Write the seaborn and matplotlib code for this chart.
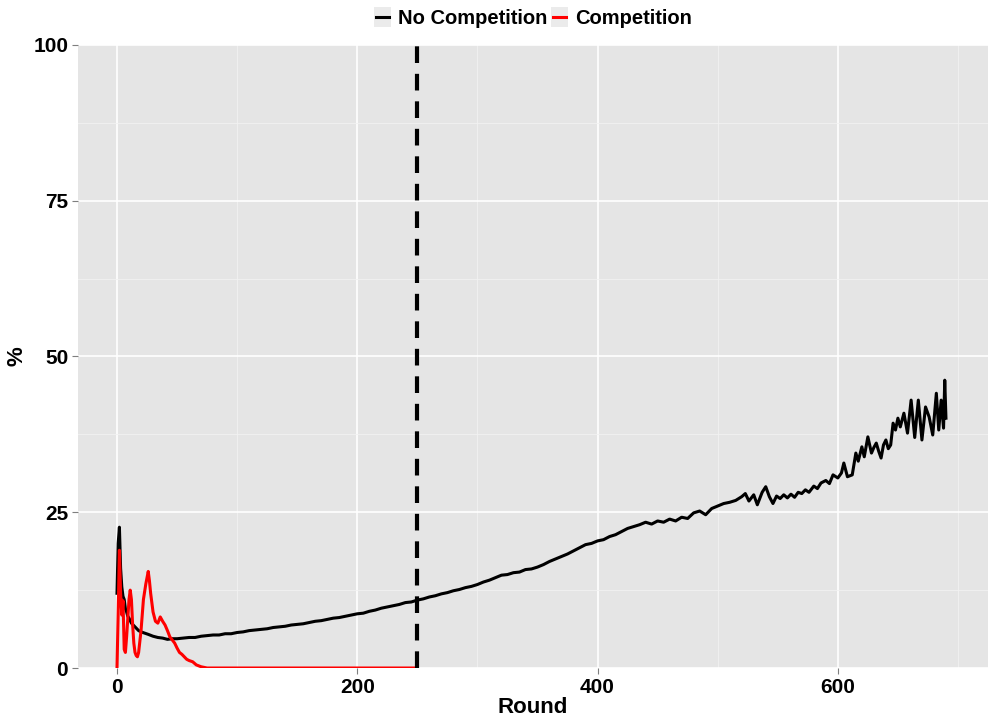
import matplotlib
matplotlib.use("Agg")
import matplotlib.pyplot as plt
import seaborn as sns
import pandas as pd
from matplotlib.legend_handler import HandlerBase
from matplotlib.patches import Rectangle
from matplotlib.lines import Line2D
from matplotlib.ticker import MultipleLocator

# ---------------- data ----------------
black_rounds = [0, 1, 2, 3, 4, 5, 6, 7, 8, 9, 10, 12, 14, 16, 18, 20, 23, 26, 30, 34, 38, 42, 46, 50,
                55, 60, 65, 70, 75, 80, 85, 90, 95, 100, 105, 110, 115, 120, 125, 130, 135, 140, 145,
                150, 155, 160, 165, 170, 175, 180, 185, 190, 195, 200, 205, 210, 215, 220, 225, 230,
                235, 240, 245, 250, 255, 260, 265, 270, 275, 280, 285, 290, 295, 300, 305, 310, 315,
                320, 325, 330, 335, 340, 345, 350, 355, 360, 365, 370, 375, 380, 385, 390, 395, 400,
                405, 410, 415, 420, 425, 430, 435, 440, 445, 450, 455, 460, 465, 470, 475, 480, 485,
                490, 495, 500, 505, 510, 515, 520, 523, 526, 530, 533, 537, 540, 543, 546, 549, 552,
                555, 558, 561, 564, 567, 570, 573, 576, 580, 583, 586, 590, 593, 596, 600, 603, 605,
                608, 612, 615, 617, 620, 622, 625, 628, 630, 632, 634, 636, 638, 640, 642, 644, 646,
                648, 650, 652, 655, 658, 661, 664, 667, 670, 673, 676, 679, 682, 684, 686, 688, 689, 690]
black_values = [12.0, 20.0, 22.6, 16.0, 13.0, 11.5, 11.0, 9.5, 9.0, 8.3, 8.0, 7.2, 6.8, 6.4, 6.0, 5.8,
                5.6, 5.4, 5.1, 4.9, 4.8, 4.6, 4.7, 4.7, 4.8, 4.9, 4.9, 5.1, 5.2, 5.3, 5.3, 5.5, 5.5,
                5.7, 5.8, 6.0, 6.1, 6.2, 6.3, 6.5, 6.6, 6.7, 6.9, 7.0, 7.1, 7.3, 7.5, 7.6, 7.8, 8.0,
                8.1, 8.3, 8.5, 8.7, 8.8, 9.1, 9.3, 9.6, 9.8, 10.0, 10.2, 10.5, 10.6, 10.9, 11.1, 11.4,
                11.6, 11.9, 12.1, 12.4, 12.6, 12.9, 13.1, 13.4, 13.8, 14.1, 14.5, 14.9, 15.0, 15.3,
                15.4, 15.8, 15.9, 16.2, 16.6, 17.1, 17.5, 17.9, 18.3, 18.8, 19.3, 19.8, 20.0, 20.4,
                20.6, 21.1, 21.4, 21.9, 22.4, 22.7, 23.0, 23.4, 23.1, 23.6, 23.4, 23.9, 23.6, 24.2,
                24.0, 24.9, 25.2, 24.6, 25.6, 26.0, 26.4, 26.6, 26.9, 27.5, 28.0, 26.8, 27.8, 26.2,
                28.2, 29.1, 27.5, 26.4, 27.6, 27.2, 27.8, 27.3, 27.9, 27.4, 28.2, 28.0, 28.6, 28.2,
                29.2, 28.8, 29.7, 30.1, 29.6, 31.0, 30.5, 31.3, 32.9, 30.7, 31.0, 34.5, 33.2, 35.5,
                33.9, 37.1, 34.5, 35.4, 36.1, 34.8, 33.7, 35.8, 36.6, 35.2, 35.8, 39.3, 38.2, 40.1,
                38.7, 40.9, 37.7, 43.0, 37.0, 43.0, 36.6, 41.9, 40.3, 37.4, 44.1, 38.2, 43.0, 38.5,
                46.2, 40.1]

red_rounds = [0, 1, 2, 3, 4, 5, 6, 7, 8, 9, 10, 11, 12, 13, 14, 15, 16, 17, 18, 20, 22, 24, 26, 27,
              28, 30, 32, 34, 36, 38, 40, 42, 44, 46, 48, 50, 52, 54, 56, 58, 60, 63, 66, 70, 75, 250]
red_values = [0.0, 9.0, 18.9, 12.0, 8.5, 10.8, 3.0, 2.5, 5.0, 8.0, 11.0, 12.5, 11.0, 7.0, 4.0, 2.5,
              2.0, 1.8, 2.5, 6.0, 11.0, 13.5, 15.5, 14.0, 12.0, 9.0, 7.5, 7.2, 8.2, 7.5, 6.9, 6.0,
              5.0, 4.5, 4.0, 3.2, 2.5, 2.2, 1.8, 1.4, 1.2, 1.0, 0.5, 0.2, 0.0, 0.0]

series_names = ["No Competition", "Competition"]
series_colors = {"No Competition": "#000000", "Competition": "#FF0000"}
cutoff_round = 250
x_ticks = [0, 200, 400, 600]
y_ticks = [0, 25, 50, 75, 100]

df = pd.concat([
    pd.DataFrame({"Round": black_rounds, "pct": black_values, "series": series_names[0]}),
    pd.DataFrame({"Round": red_rounds, "pct": red_values, "series": series_names[1]}),
], ignore_index=True)

# ---------------- figure ----------------
plt.rcParams["font.family"] = ["Liberation Sans", "DejaVu Sans"]
fig = plt.figure(figsize=(9.88, 7.21), dpi=100)
ax = fig.add_axes([0.0789, 0.0735, 0.9211, 0.8641])
ax.set_facecolor("#E5E5E5")

sns.lineplot(data=df, x="Round", y="pct", hue="series", palette=series_colors,
             hue_order=series_names, ax=ax, legend=False, linewidth=2.2,
             estimator=None, sort=True)

ax.axvline(cutoff_round, color="black", linewidth=3.0, linestyle=(0, (4, 2.6)), zorder=3)

ax.set_xlim(-32.5, 725)
ax.set_ylim(0, 100)
ax.set_xticks(x_ticks)
ax.set_yticks(y_ticks)
ax.xaxis.set_minor_locator(MultipleLocator(100))
ax.yaxis.set_minor_locator(MultipleLocator(12.5))
ax.grid(which="major", color="white", linewidth=1.2)
ax.grid(which="minor", color="#F2F2F2", linewidth=0.6)
ax.set_axisbelow(True)
for s in ax.spines.values():
    s.set_visible(False)
ax.tick_params(which="major", length=4, color="#7F7F7F", width=0.8, labelsize=15,
               labelcolor="black", pad=3)
ax.tick_params(which="minor", length=0)
for lab in ax.get_xticklabels() + ax.get_yticklabels():
    lab.set_fontweight("bold")

ax.set_xlabel("Round", fontsize=16, fontweight="bold", labelpad=0)
ax.set_ylabel("%", fontsize=16, fontweight="bold", labelpad=4)


class KeyHandler(HandlerBase):
    def create_artists(self, legend, orig_handle, xdescent, ydescent, width, height, fontsize, trans):
        rect = Rectangle((-xdescent, -ydescent - 2), width, height + 4, facecolor="#EBEBEB",
                         edgecolor="none", transform=trans)
        y = height / 2.0 - ydescent
        line = Line2D([-xdescent + 1.5, -xdescent + width - 1.5], [y, y],
                      color=orig_handle.get_color(), linewidth=2.2, transform=trans)
        return [rect, line]


handles = [Line2D([], [], color=series_colors[n], linewidth=2) for n in series_names]
leg = ax.legend(handles, series_names, loc="lower center", bbox_to_anchor=(0.5, 1.0),
                ncol=2, frameon=False, handlelength=0.85, handletextpad=0.35, columnspacing=0.15,
                borderaxespad=0.45, prop={"weight": "bold", "size": 14.5},
                handler_map={Line2D: KeyHandler()})

fig.savefig("out.png", dpi=100)
